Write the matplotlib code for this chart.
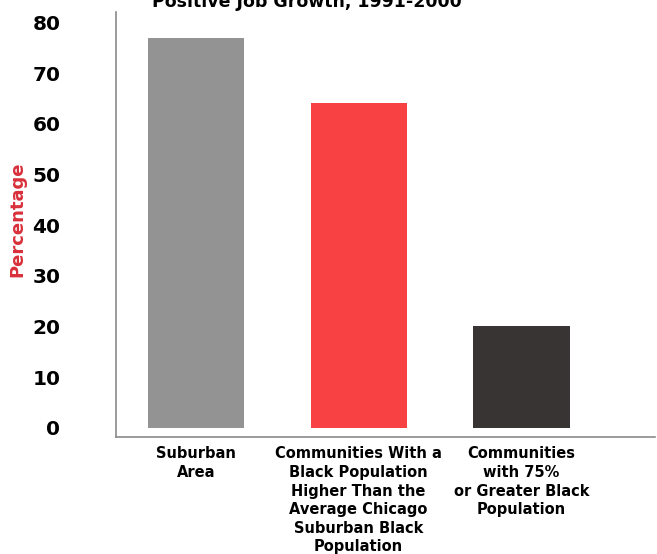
import matplotlib
matplotlib.use("Agg")
import matplotlib.pyplot as plt

# data
categories = [
    "Suburban\nArea",
    "Communities With a\nBlack Population\nHigher Than the\nAverage Chicago\nSuburban Black\nPopulation",
    "Communities\nwith 75%\nor Greater Black\nPopulation",
]
values = [77, 64, 20]
colors = ["#939393", "#f74143", "#383434"]
yticks = [0, 10, 20, 30, 40, 50, 60, 70, 80]

fig = plt.figure(figsize=(6.57, 5.54), dpi=100)
ax = fig.add_axes([0.1766, 0.2112, 0.8204, 0.7668])

x = list(range(len(values)))
ax.bar(x, values, width=0.59, color=colors)

ax.set_xlim(-0.49, 2.82)
ax.set_ylim(-1.8, 82)
ax.set_yticks(yticks)
ax.set_yticklabels([str(t) for t in yticks], fontsize=14.5, fontweight="bold")
ax.tick_params(axis="y", length=0, pad=40)
ax.set_xticks([])

for s in ["top", "right"]:
    ax.spines[s].set_visible(False)
for s in ["left", "bottom"]:
    ax.spines[s].set_color("#8a8a8a")
    ax.spines[s].set_linewidth(1.2)

for xi, lab in zip(x, categories):
    ax.text(xi, -0.022, lab, transform=ax.get_xaxis_transform(),
            ha="center", va="top", fontsize=10.5, fontweight="bold",
            linespacing=1.3)

fig.text(0.027, 0.605, "Percentage", rotation=90, ha="center", va="center",
         fontsize=13, fontweight="bold", color="#d8303a")

fig.text(0.467, 0.997, "Positive Job Growth, 1991-2000", ha="center", va="center",
         fontsize=12.5, fontweight="bold")

fig.savefig("out.png", dpi=100)
